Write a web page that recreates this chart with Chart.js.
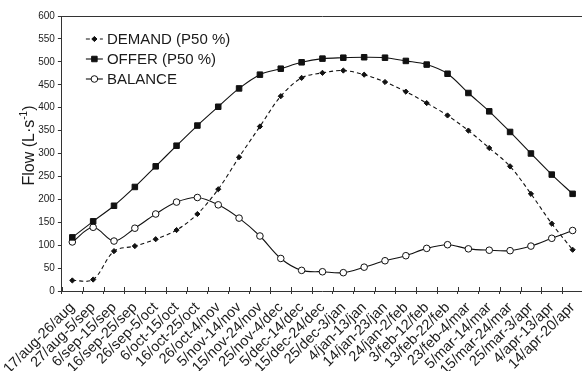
<!DOCTYPE html>
<html>
<head>
<meta charset="utf-8">
<script src="https://cdn.jsdelivr.net/npm/chart.js@4.4.1/dist/chart.umd.min.js"></script>
<style>
  html, body { margin: 0; padding: 0; background: #fff; overflow: hidden; }
  #wrap { position: absolute; left: 0; top: 0; width: 590px; height: 371px; }
</style>
</head>
<body>
<div id="wrap"><canvas id="flowChart" width="590" height="371"></canvas></div>
<script>
// Ten-day periods of the season
const periods = [
  '17/aug-26/aug', '27/aug-5/sep', '6/sep-15/sep', '16/sep-25/sep', '26/sep-5/oct',
  '6/oct-15/oct', '16/oct-25/oct', '26/oct-4/nov', '5/nov-14/nov', '15/nov-24/nov',
  '25/nov-4/dec', '5/dec-14/dec', '15/dec-24/dec', '25/dec-3/jan', '4/jan-13/jan',
  '14/jan-23/jan', '24/jan-2/feb', '3/feb-12/feb', '13/feb-22/feb', '23/feb-4/mar',
  '5/mar-14/mar', '15/mar-24/mar', '25/mar-3/apr', '4/apr-13/apr', '14/apr-20/apr'
];

// Flow in L·s-1
const demand = [23, 25, 87, 98, 113, 133, 168, 222, 292, 359, 425, 465, 476, 481, 472,
                456, 435, 410, 383, 350, 312, 272, 212, 147, 90];
const offer = [117, 152, 186, 227, 272, 317, 361, 402, 442, 472, 485, 499, 507, 509, 510,
               509, 502, 494, 474, 432, 392, 347, 300, 254, 212];
const balance = [107, 139, 109, 137, 168, 194, 204, 188, 159, 120, 71, 45, 42, 40, 52,
                 66, 77, 93, 101, 92, 89, 88, 98, 115, 132];

const seriesNames = ['DEMAND (P50 %)', 'OFFER (P50 %)', 'BALANCE'];
const yMin = 0, yMax = 600, yStep = 50;

const FONT = "'Liberation Sans', Arial, Helvetica, sans-serif";
const INK = '#1a1a1a';
const AXIS = '#333333';

function drawMarker(ctx, ds, x, y) {
  ctx.fillStyle = ds.pointBackgroundColor;
  ctx.strokeStyle = ds.pointBorderColor;
  ctx.lineWidth = ds.pointBorderWidth;
  Chart.helpers.drawPoint(ctx, {
    pointStyle: ds.pointStyle, radius: ds.pointRadius, rotation: 0,
    borderWidth: ds.pointBorderWidth
  }, x, y);
}

// Legend inside the plot, upper-left: short line sample with its marker, then the name
const plotLegend = {
  id: 'plotLegend',
  afterDatasetsDraw(chart) {
    const ctx = chart.ctx, a = chart.chartArea;
    const x0 = a.left + 24, x1 = a.left + 41, tx = a.left + 45;
    const rows = [a.top + 23, a.top + 43, a.top + 63];
    chart.data.datasets.forEach((ds, i) => {
      const y = rows[i];
      ctx.save();
      ctx.strokeStyle = ds.borderColor;
      ctx.lineWidth = ds.borderWidth;
      ctx.setLineDash(ds.borderDash || []);
      ctx.beginPath(); ctx.moveTo(x0, y); ctx.lineTo(x1, y); ctx.stroke();
      ctx.setLineDash([]);
      drawMarker(ctx, ds, (x0 + x1) / 2, y);
      ctx.fillStyle = INK;
      ctx.font = '15px ' + FONT;
      ctx.textAlign = 'left';
      ctx.textBaseline = 'middle';
      ctx.fillText(ds.label, tx, y + 1);
      ctx.restore();
    });
  }
};

// Top frame line, inner halves of the category tick marks, and the y-axis title
const frameAndTitle = {
  id: 'frameAndTitle',
  afterDraw(chart) {
    const ctx = chart.ctx, a = chart.chartArea, xs = chart.scales.x;
    ctx.save();
    ctx.strokeStyle = AXIS;
    ctx.lineWidth = 1;
    ctx.beginPath();
    ctx.moveTo(a.left, Math.round(a.top) + 0.5);
    ctx.lineTo(a.right, Math.round(a.top) + 0.5);
    const n = xs.ticks.length;
    for (let i = 0; i <= n; i++) {
      const x = Math.round(xs.left + i * xs.width / n) + 0.5;
      ctx.moveTo(x, a.bottom);
      ctx.lineTo(x, a.bottom - 4);
    }
    ctx.stroke();

    // Flow (L·s-1), with the exponent raised
    const main = 'Flow (L·s', sup = '-1', tail = ')';
    ctx.fillStyle = INK;
    ctx.textBaseline = 'alphabetic';
    ctx.textAlign = 'left';
    ctx.font = '16px ' + FONT;
    const w1 = ctx.measureText(main).width, w3 = ctx.measureText(tail).width;
    ctx.font = '10px ' + FONT;
    const w2 = ctx.measureText(sup).width;
    const total = w1 + w2 + w3;
    ctx.translate(34, (a.top + a.bottom) / 2 - 8);
    ctx.rotate(-Math.PI / 2);
    let x = -total / 2;
    ctx.font = '16px ' + FONT;
    ctx.fillText(main, x, 0); x += w1;
    ctx.font = '10px ' + FONT;
    ctx.fillText(sup, x, -7); x += w2;
    ctx.font = '16px ' + FONT;
    ctx.fillText(tail, x, 0);
    ctx.restore();
  }
};

const lineBase = {
  borderColor: '#111111',
  borderWidth: 1.1,
  pointBorderColor: '#111111',
  pointBorderWidth: 1,
  pointHoverRadius: 0,
  tension: 0.33,
  fill: false
};

new Chart(document.getElementById('flowChart'), {
  type: 'line',
  data: {
    labels: periods,
    datasets: [
      Object.assign({}, lineBase, {
        label: seriesNames[0], data: demand, borderDash: [4, 3],
        pointStyle: 'rectRot', pointRadius: 2.6, pointBackgroundColor: '#111111'
      }),
      Object.assign({}, lineBase, {
        label: seriesNames[1], data: offer,
        pointStyle: 'rect', pointRadius: 3.9, pointBackgroundColor: '#111111'
      }),
      Object.assign({}, lineBase, {
        label: seriesNames[2], data: balance,
        pointStyle: 'circle', pointRadius: 3.3, pointBackgroundColor: '#ffffff'
      })
    ]
  },
  options: {
    responsive: false,
    maintainAspectRatio: false,
    devicePixelRatio: 1,
    animation: false,
    layout: { padding: { top: 16, right: 3, bottom: 0, left: 0 } },
    plugins: { legend: { display: false }, tooltip: { enabled: false } },
    scales: {
      x: {
        type: 'category',
        offset: true,
        grid: { offset: true, drawOnChartArea: false, drawTicks: true, tickLength: 3, color: AXIS },
        border: { display: true, color: AXIS, width: 1 },
        ticks: {
          autoSkip: false, minRotation: 45, maxRotation: 45,
          font: { family: FONT, size: 14.5 }, color: INK, padding: 5
        },
        afterFit(scale) { scale.height = 80; }
      },
      y: {
        min: yMin, max: yMax,
        grid: { drawOnChartArea: false, drawTicks: true, tickLength: 4, color: AXIS },
        border: { display: true, color: AXIS, width: 1 },
        ticks: { stepSize: yStep, font: { family: FONT, size: 10 }, color: INK, padding: 3 },
        afterFit(scale) { scale.width = 61; }
      }
    }
  },
  plugins: [plotLegend, frameAndTitle]
});
</script>
</body>
</html>
